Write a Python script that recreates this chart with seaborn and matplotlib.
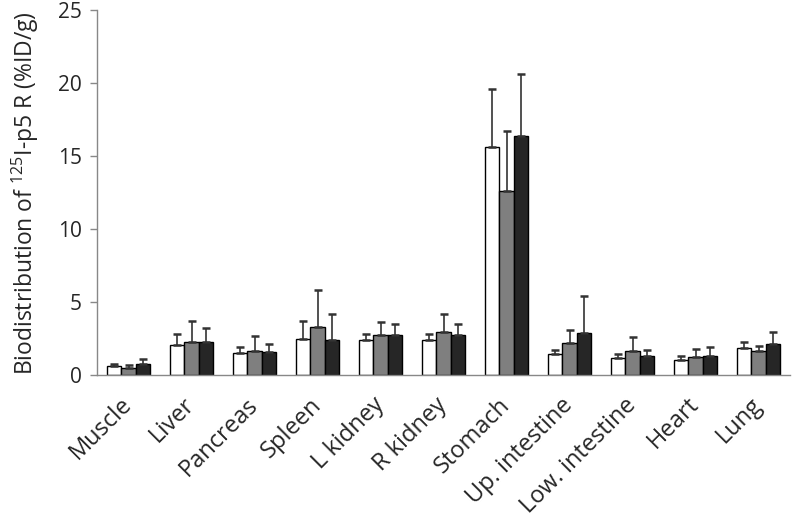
import numpy as np
import pandas as pd
import matplotlib
matplotlib.use("Agg")
from matplotlib import pyplot as plt
import seaborn as sns

organs = ["Muscle", "Liver", "Pancreas", "Spleen", "L kidney", "R kidney",
          "Stomach", "Up. intestine", "Low. intestine", "Heart", "Lung"]
groups = ["g1", "g2", "g3"]

# mean values per group
mean_g1 = [0.64, 2.08, 1.48, 2.49, 2.42, 2.42, 15.64, 1.42, 1.14, 1.05, 1.87]
mean_g2 = [0.50, 2.24, 1.67, 3.31, 2.76, 2.97, 12.62, 2.21, 1.67, 1.23, 1.67]
mean_g3 = [0.77, 2.28, 1.60, 2.42, 2.76, 2.76, 16.39, 2.85, 1.32, 1.32, 2.15]

# upper error (SD) per group
sd_g1 = [0.13, 0.70, 0.46, 1.23, 0.36, 0.36, 3.95, 0.31, 0.32, 0.27, 0.37]
sd_g2 = [0.20, 1.48, 1.02, 2.53, 0.89, 1.23, 4.11, 0.89, 0.96, 0.57, 0.34]
sd_g3 = [0.33, 0.96, 0.55, 1.73, 0.71, 0.71, 4.25, 2.54, 0.41, 0.62, 0.82]

sds = [sd_g1, sd_g2, sd_g3]

df = pd.DataFrame({
    "organ": organs * 3,
    "group": np.repeat(groups, len(organs)),
    "value": mean_g1 + mean_g2 + mean_g3,
})

sns.set_style("white")
plt.rcParams["font.family"] = ["Open Sans", "DejaVu Sans"]
plt.rcParams["mathtext.fontset"] = "custom"
plt.rcParams["mathtext.rm"] = "Open Sans"

fig = plt.figure(figsize=(7.92, 5.30), dpi=100)
ax = fig.add_axes([0.1225, 0.2925, 0.875, 0.688])

palette = {"g1": "#ffffff", "g2": "#7f7f7f", "g3": "#262626"}
sns.barplot(data=df, x="organ", y="value", hue="group", palette=palette,
            order=organs, hue_order=groups, width=0.67, gap=0,
            edgecolor="black", linewidth=1.0, errorbar=None, legend=False, ax=ax)

# one-sided error bars on top of each bar
for cont, sd in zip(ax.containers, sds):
    xs = [p.get_x() + p.get_width() / 2 for p in cont.patches]
    hs = [p.get_height() for p in cont.patches]
    ax.errorbar(xs, hs, yerr=[np.zeros(len(sd)), sd], fmt="none",
                ecolor="#333333", elinewidth=1.2, capsize=3, capthick=1.8, zorder=3)

ax.set_ylim(0, 25)
ax.set_xlim(-0.5, len(organs) - 0.5)
ax.set_yticks([0, 5, 10, 15, 20, 25])
ax.set_ylabel(r"Biodistribution of $\mathregular{^{125}}$I-p5 R (%ID/g)", fontsize=16.5, labelpad=12)
ax.set_xlabel("")

ax.set_xticks(np.arange(-0.5, len(organs), 1), minor=True)
ax.tick_params(axis="x", which="major", length=0, labelsize=17, pad=19)
ax.tick_params(axis="x", which="minor", length=5, color="#888888", width=1)
ax.tick_params(axis="y", which="major", length=5, color="#888888", width=1,
               labelsize=15, left=True, direction="out", pad=6)
plt.setp(ax.get_xticklabels(), rotation=45, ha="right", va="center",
         rotation_mode="anchor")

sns.despine(ax=ax)
for s in ["left", "bottom"]:
    ax.spines[s].set_color("#888888")
    ax.spines[s].set_linewidth(1)

fig.savefig("out.png", dpi=100)
